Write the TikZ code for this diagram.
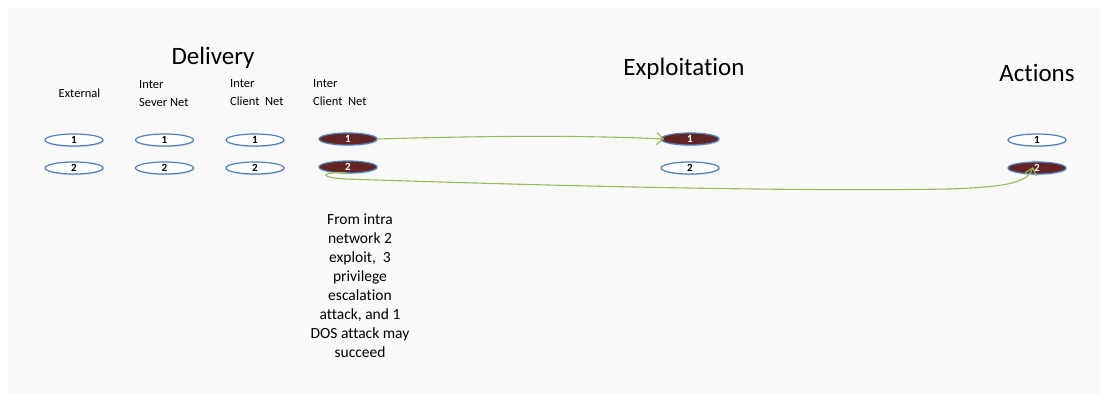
\documentclass[tikz,border=0pt]{standalone}
\usepackage{fontspec}
\setmainfont{Carlito}[Ligatures=NoCommon]
\usetikzlibrary{arrows.meta,shadows,shapes.geometric}
\definecolor{bgc}{HTML}{F9F9F9}
\definecolor{bord}{HTML}{4F81BD}
\definecolor{darkred}{HTML}{632523}
\definecolor{grn}{HTML}{9BBB59}
\begin{document}
\begin{tikzpicture}[x=1pt,y=-1pt,
  ell/.style={ellipse, draw=bord, line width=1.2pt, minimum width=58pt, minimum height=12pt,
    inner sep=0pt, font=\fontsize{11}{11}\selectfont\bfseries,
    drop shadow={opacity=0.25, shadow xshift=0.8pt, shadow yshift=-1.2pt}},
  lite/.style={ell, fill=white, text=black},
  darkel/.style={ell, fill=darkred, text=white},
  head/.style={font=\fontsize{25}{25}\selectfont},
  lab/.style={font=\fontsize{12.5}{18}\selectfont, align=left, anchor=west, inner sep=0pt},
  link/.style={draw=grn, line width=1.1pt, -{Straight Barb[length=7pt,width=12pt]}}]
\useasboundingbox (0,0) rectangle (1100,394);
\fill[white] (0,0) rectangle (1100,394);
\fill[bgc] (8,8) rectangle (1100,394);

\node[head] (hdel) at (213,58) {Delivery};
\node[head] (hexp) at (684,69) {Exploitation};
\node[head] (hact) at (1037,73) {Actions};

\node[font=\fontsize{12.5}{18}\selectfont, inner sep=0pt] (lext) at (79.5,93) {External};
\node[lab] (lsev) at (139,94) {Inter\\Sever Net};
\node[lab] (lcl1) at (230,93) {Inter\\Client\ \ Net};
\node[lab] (lcl2) at (313,93) {Inter\\Client\ \ Net};

\node[lite] (e1) at (74,140) {1};
\node[lite] (e2) at (74,168) {2};
\node[lite] (s1) at (164.5,140) {1};
\node[lite] (s2) at (164.5,168) {2};
\node[lite] (c1) at (255,140) {1};
\node[lite] (c2) at (255,168) {2};
\node[darkel] (d1) at (348,139) {1};
\node[darkel] (d2) at (348,167) {2};
\node[darkel] (x1) at (690,139) {1};
\node[lite] (x2) at (690,168) {2};
\node[lite] (a1) at (1037,140) {1};
\node[darkel] (a2) at (1037,168) {2};

\draw[link] (d1.east) .. controls (480,136) and (580,135) .. ([xshift=4pt]x1.west);
\draw[link] (d2.-80) .. controls (338,170) and (305,176) .. (345,179)
  .. controls (500,184) and (760,192) .. (950,189)
  .. controls (1000,187) and (1028,184) .. ([xshift=-4pt,yshift=1pt]a2.center);

\node[font=\fontsize{15.5}{19}\selectfont, align=center] (note) at (360,286)
  {From intra\\network 2\\exploit,\ \ 3\\privilege\\escalation\\attack, and 1\\DOS attack may\\succeed};
\end{tikzpicture}
\end{document}
